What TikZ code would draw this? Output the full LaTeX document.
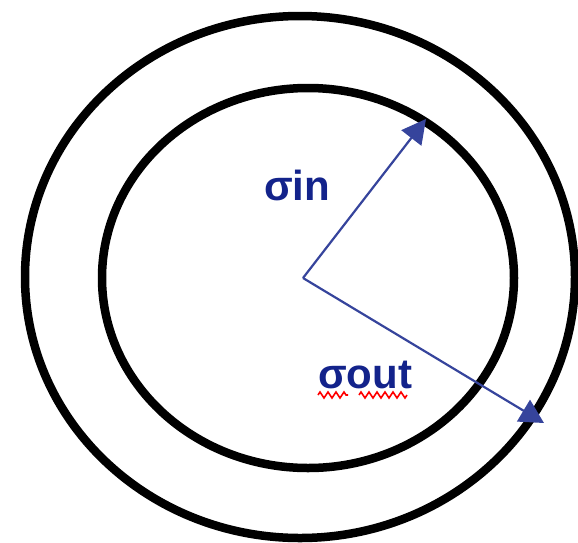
\documentclass[tikz,border=0pt]{standalone}
\usepackage{fontspec}
\setmainfont{Liberation Sans}
\usetikzlibrary{arrows.meta,decorations.pathmorphing}
\definecolor{navy}{HTML}{13238B}
\definecolor{squig}{HTML}{FF0000}

\begin{document}
\begin{tikzpicture}[x=1pt,y=-1pt,>={Triangle[length=24pt,width=25pt]},
  ring/.style={line width=8.5pt,black},
  radius/.style={->,navy!85!white,line width=2.2pt},
  sigma/.style={navy,inner sep=0pt,anchor=base west,font=\bfseries\fontsize{42}{42}\selectfont},
  spell/.style={squig,line width=1.6pt,decorate,decoration={zigzag,segment length=8pt,amplitude=3pt}}]
  \useasboundingbox (0,0) rectangle (578,542);
  \clip (0,0) rectangle (578,542);
  \draw[ring] (300,277) ellipse [x radius=275, y radius=261];
  \draw[ring] (308,278) ellipse [x radius=206, y radius=190];
  \coordinate (o) at (303,278);
  \coordinate (tin) at (426,119);
  \coordinate (tout) at (544,423);
  \draw[radius] (o) -- (tin);
  \draw[radius] (o) -- (tout);
  \node[sigma] (sin) at (264,200) {σin};
  \node[sigma] (sout) at (318,388) {σout};
  \draw[spell] (318,395) -- (348,395);
  \draw[spell] (359,395) -- (407,395);
\end{tikzpicture}
\end{document}
